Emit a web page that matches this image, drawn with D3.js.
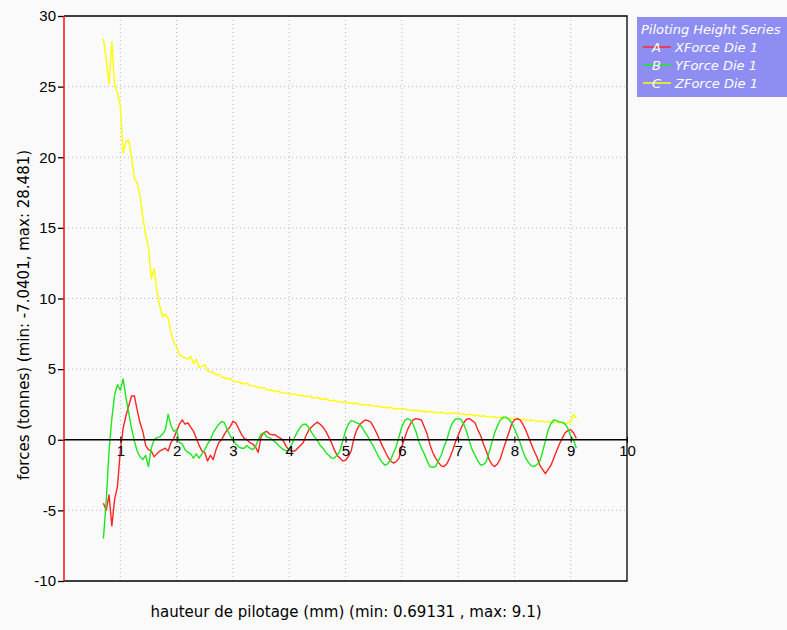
<!DOCTYPE html>
<html lang="en">
<head>
    <meta charset="utf-8">
    <title>Piloting Height Series</title>
    <style>
        body {
            margin: 0;
            background: #fff;
        }

        svg {
            display: block;
            font-family: "Liberation Sans", Arial, sans-serif;
        }

        .grid line {
            stroke: #b8b8b8;
            stroke-width: 1;
            stroke-dasharray: 1, 3;
        }

        .axis text {
            font-size: 15px;
            fill: #000;
        }

        .axis line {
            stroke: #000;
        }

        .title {
            font-family: "DejaVu Sans", sans-serif;
            font-size: 15px;
        }

        .legend text {
            font-family: "DejaVu Sans", sans-serif;
            font-size: 13px;
            font-style: italic;
            fill: #fff;
        }
    </style>
</head>
<body>

<svg width="787" height="630"></svg>

<script src="https://d3js.org/d3.v7.min.js"></script>
<script>

    // pilot height (mm), shared by the three series
    const hauteur = [
        0.70, 0.75, 0.80, 0.85, 0.90, 0.95, 1.00, 1.05, 1.10, 1.15,
        1.20, 1.25, 1.30, 1.35, 1.40, 1.45, 1.50, 1.55, 1.60, 1.65,
        1.70, 1.75, 1.80, 1.85, 1.90, 1.95, 2.00, 2.05, 2.10, 2.15,
        2.20, 2.25, 2.30, 2.35, 2.40, 2.45, 2.50, 2.55, 2.60, 2.65,
        2.70, 2.75, 2.80, 2.85, 2.90, 2.95, 3.00, 3.05, 3.10, 3.15,
        3.20, 3.25, 3.30, 3.35, 3.40, 3.45, 3.50, 3.55, 3.60, 3.65,
        3.70, 3.75, 3.80, 3.85, 3.90, 3.95, 4.00, 4.05, 4.10, 4.15,
        4.20, 4.25, 4.30, 4.35, 4.40, 4.45, 4.50, 4.55, 4.60, 4.65,
        4.70, 4.75, 4.80, 4.85, 4.90, 4.95, 5.00, 5.05, 5.10, 5.15,
        5.20, 5.25, 5.30, 5.35, 5.40, 5.45, 5.50, 5.55, 5.60, 5.65,
        5.70, 5.75, 5.80, 5.85, 5.90, 5.95, 6.00, 6.05, 6.10, 6.15,
        6.20, 6.25, 6.30, 6.35, 6.40, 6.45, 6.50, 6.55, 6.60, 6.65,
        6.70, 6.75, 6.80, 6.85, 6.90, 6.95, 7.00, 7.05, 7.10, 7.15,
        7.20, 7.25, 7.30, 7.35, 7.40, 7.45, 7.50, 7.55, 7.60, 7.65,
        7.70, 7.75, 7.80, 7.85, 7.90, 7.95, 8.00, 8.05, 8.10, 8.15,
        8.20, 8.25, 8.30, 8.35, 8.40, 8.45, 8.50, 8.55, 8.60, 8.65,
        8.70, 8.75, 8.80, 8.85, 8.90, 8.95, 9.00, 9.05, 9.10
    ];

    // A - XForce Die 1 (tonnes)
    const xForce = [
        -4.5, -5.0, -3.9, -6.1, -4.2, -3.3, -0.8, 0.8, 1.7, 2.4,
        3.1, 3.1, 2.1, 1.2, 0.6, -0.4, -0.7, -0.8, -1.2, -1.0,
        -0.8, -0.7, -0.6, -0.8, -0.2, 0.1, 0.6, 1.1, 1.4, 1.1,
        1.2, 0.9, 0.6, 0.1, -0.4, -0.8, -0.9, -1.5, -1.1, -1.4,
        -0.7, -0.2, 0.0, 0.4, 0.7, 0.9, 1.3, 1.2, 0.8, 0.4,
        0.1, 0.0, -0.2, -0.3, -0.5, -0.9, 0.2, 0.5, 0.6, 0.4,
        0.35, 0.35, 0.2, 0.1, -0.1, -0.5, -0.7, -0.8, -0.8, -0.6,
        -0.4, -0.2, 0.3, 0.7, 0.9, 1.1, 1.25, 1.1, 0.9, 0.6,
        0.2, -0.2, -0.7, -1.1, -1.3, -1.5, -1.45, -1.2, -0.8, 0.1,
        0.7, 1.05, 1.25, 1.4, 1.35, 1.25, 0.9, 0.5, 0.05, -0.4,
        -0.8, -1.2, -1.5, -1.65, -1.55, -1.3, -0.5, 0.1, 0.7, 1.1,
        1.4, 1.5, 1.45, 1.4, 0.9, 0.4, -0.35, -0.9, -1.3, -1.6,
        -1.85, -1.9, -1.7, -1.3, -0.8, -0.2, 0.3, 0.8, 1.2, 1.45,
        1.5, 1.35, 1.2, 0.7, 0.3, -0.3, -0.8, -1.4, -1.75, -1.9,
        -1.7, -1.35, -0.7, -0.1, 0.5, 1.1, 1.4, 1.5, 1.4, 1.1,
        0.7, 0.2, -0.3, -0.8, -1.2, -1.8, -2.1, -2.4, -2.1, -1.8,
        -1.3, -0.8, -0.3, 0.1, 0.5, 0.65, 0.7, 0.5, 0.1
    ];

    // B - YForce Die 1 (tonnes)
    const yForce = [
        -7.0, -4.3, -0.8, 1.5, 3.2, 3.9, 3.5, 4.3, 3.0, 1.9,
        0.8, -0.1, -0.8, -1.2, -1.4, -1.1, -1.9, -0.6, 0.0, 0.15,
        0.2, 0.4, 0.7, 1.8, 1.0, 0.6, 0.7, -0.2, -0.3, -0.7,
        -0.9, -1.0, -1.3, -1.0, -1.3, -1.0, -0.7, -0.3, 0.0, 0.5,
        0.8, 1.1, 1.3, 1.2, 0.7, 0.3, 0.0, -0.3, -0.5, -0.6,
        -0.6, -0.4, -0.6, -0.7, -0.5, 0.0, 0.4, 0.5, 0.2, 0.15,
        0.0, -0.15, -0.35, -0.55, -0.7, -0.8, -0.65, -0.3, 0.2, 0.6,
        0.9, 1.1, 1.1, 0.85, 0.5, 0.2, -0.05, -0.4, -0.6, -0.9,
        -1.1, -1.3, -1.3, -1.1, -0.8, -0.1, 0.6, 1.1, 1.35, 1.3,
        1.2, 1.1, 0.85, 0.5, 0.2, -0.15, -0.5, -0.9, -1.3, -1.6,
        -1.8, -1.7, -1.45, -0.95, -0.5, 0.2, 0.9, 1.35, 1.5, 1.4,
        1.1, 0.6, -0.1, -0.6, -1.0, -1.5, -1.9, -1.95, -1.9, -1.5,
        -1.1, -0.5, 0.0, 0.7, 1.2, 1.45, 1.5, 1.45, 1.1, 0.6,
        -0.1, -0.7, -1.1, -1.5, -1.8, -1.75, -1.55, -0.9, -0.2, 0.5,
        1.0, 1.4, 1.6, 1.6, 1.45, 1.2, 0.8, 0.3, -0.2, -0.8,
        -1.3, -1.6, -1.85, -1.9, -1.75, -1.55, -0.85, -0.1, 0.7, 1.15,
        1.4, 1.35, 1.25, 1.25, 1.1, 0.8, 0.25, 0.0, -0.6
    ];

    // C - ZForce Die 1 (tonnes)
    const zForce = [
        28.4, 26.9, 25.2, 28.2, 25.0, 24.6, 23.6, 20.3, 21.1, 21.2,
        20.0, 18.5, 18.2, 17.3, 15.8, 14.5, 13.6, 11.4, 12.1, 10.6,
        9.5, 8.7, 8.9, 8.6, 7.6, 6.9, 6.6, 6.0, 5.9, 5.8,
        5.7, 5.9, 5.4, 5.7, 5.1, 5.2, 5.3, 4.9, 4.8, 4.75,
        4.6, 4.65, 4.45, 4.4, 4.3, 4.35, 4.15, 4.1, 4.1, 4.0,
        3.95, 4.0, 3.85, 3.8, 3.8, 3.7, 3.65, 3.7, 3.55, 3.5,
        3.5, 3.4, 3.45, 3.35, 3.3, 3.3, 3.25, 3.2, 3.25, 3.15,
        3.15, 3.1, 3.05, 3.1, 3.0, 2.95, 3.0, 2.9, 2.85, 2.9,
        2.8, 2.75, 2.8, 2.7, 2.7, 2.65, 2.7, 2.6, 2.6, 2.55,
        2.6, 2.5, 2.5, 2.45, 2.5, 2.4, 2.4, 2.35, 2.4, 2.3,
        2.3, 2.25, 2.3, 2.2, 2.2, 2.2, 2.15, 2.2, 2.1, 2.1,
        2.05, 2.1, 2.05, 2.0, 2.05, 1.95, 2.0, 1.95, 1.95, 1.9,
        1.95, 1.9, 1.85, 1.9, 1.85, 1.9, 1.85, 1.8, 1.85, 1.75,
        1.8, 1.75, 1.7, 1.75, 1.65, 1.7, 1.65, 1.6, 1.65, 1.6,
        1.55, 1.6, 1.5, 1.55, 1.5, 1.5, 1.45, 1.5, 1.4, 1.45,
        1.4, 1.35, 1.4, 1.35, 1.3, 1.35, 1.3, 1.25, 1.3, 1.25,
        1.2, 1.25, 1.2, 1.2, 1.15, 1.2, 1.25, 1.8, 1.5
    ];

    const seriesLetters = ["A", "B", "C"];
    const seriesNames = ["XForce Die  1", "YForce Die  1", "ZForce Die  1"];
    const seriesColors = ["#ff2424", "#1ee61e", "#ffff00"];

    const xTicks = [1, 2, 3, 4, 5, 6, 7, 8, 9, 10];
    const yTicks = [-10, -5, 0, 5, 10, 15, 20, 25, 30];
    const xGrid = [1, 2, 3, 4, 5, 6, 7, 8, 9];
    const yGrid = [-5, 5, 10, 15, 20, 25];

    const legendTitle = "Piloting Height Series";
    const xTitle = "hauteur de pilotage (mm) (min: 0.69131 , max: 9.1)";
    const yTitle = "forces (tonnes) (min: -7.0401, max: 28.481)";

    const svg = d3.select("svg");
    const plot = {left: 64, right: 627, top: 16, bottom: 581};

    svg.append("rect")
        .attr("x", 0).attr("y", 0)
        .attr("width", 787).attr("height", 630)
        .attr("fill", "#fafafa");

    const x = d3.scaleLinear().domain([0, 10]).range([plot.left, plot.right]);
    const y = d3.scaleLinear().domain([-10, 30]).range([plot.bottom, plot.top]);

    // dotted grid
    const grid = svg.append("g").attr("class", "grid");
    grid.selectAll(".vg")
        .data(xGrid)
        .enter().append("line")
        .attr("x1", d => x(d)).attr("x2", d => x(d))
        .attr("y1", plot.top).attr("y2", plot.bottom);
    grid.selectAll(".hg")
        .data(yGrid)
        .enter().append("line")
        .attr("x1", plot.left).attr("x2", plot.right)
        .attr("y1", d => y(d)).attr("y2", d => y(d));

    // frame (top, right, bottom)
    svg.append("path")
        .attr("d", `M${plot.left},${plot.top}H${plot.right}V${plot.bottom}H${plot.left}`)
        .attr("fill", "none")
        .attr("stroke", "#000")
        .attr("stroke-width", 1.3);

    // series, yellow underneath
    const line = d3.line()
        .x((d, i) => x(hauteur[i]))
        .y(d => y(d));

    [[zForce, 2], [xForce, 0], [yForce, 1]].forEach(([s, k]) => {
        svg.append("path")
            .datum(s)
            .attr("d", line)
            .attr("fill", "none")
            .attr("stroke", seriesColors[k])
            .attr("stroke-width", 1.4)
            .attr("stroke-linejoin", "round");
    });

    // y axis (plain hyphen minus, like the original)
    const yAxis = d3.axisLeft(y)
        .tickValues(yTicks)
        .tickFormat(d => String(d))
        .tickSize(6)
        .tickPadding(2);
    const gy = svg.append("g")
        .attr("class", "axis")
        .attr("transform", `translate(${plot.left},0)`)
        .call(yAxis);
    gy.select(".domain").remove();
    gy.selectAll(".tick line").attr("stroke-width", 1.3);

    svg.append("line")
        .attr("x1", plot.left).attr("x2", plot.left)
        .attr("y1", plot.top).attr("y2", plot.bottom)
        .attr("stroke", "#ff1a1a")
        .attr("stroke-width", 1.6);

    // x axis, drawn through zero
    const xAxis = d3.axisBottom(x)
        .tickValues(xTicks)
        .tickFormat(d => String(d))
        .tickSize(3)
        .tickPadding(3);
    const gx = svg.append("g")
        .attr("class", "axis")
        .attr("transform", `translate(0,${y(0)})`)
        .call(xAxis);
    gx.select(".domain")
        .attr("d", `M${plot.left},0H${plot.right}`)
        .attr("stroke", "#000")
        .attr("stroke-width", 1.3);
    gx.selectAll(".tick line").attr("y1", -3);

    // axis titles
    svg.append("text")
        .attr("class", "title")
        .attr("x", 346)
        .attr("y", 617)
        .attr("text-anchor", "middle")
        .text(xTitle);

    svg.append("text")
        .attr("class", "title")
        .attr("transform", "translate(29,315) rotate(-90)")
        .attr("text-anchor", "middle")
        .text(yTitle);

    // legend
    const legend = svg.append("g").attr("class", "legend");
    legend.append("rect")
        .attr("x", 637).attr("y", 17)
        .attr("width", 170).attr("height", 80)
        .attr("fill", "#8e8ef2");
    legend.append("text")
        .attr("x", 641).attr("y", 34)
        .text(legendTitle);

    const items = legend.selectAll(".item")
        .data(seriesNames)
        .enter().append("g")
        .attr("transform", (d, i) => `translate(0,${47 + i * 18})`);
    items.append("line")
        .attr("x1", 643).attr("x2", 671)
        .attr("stroke", (d, i) => seriesColors[i])
        .attr("stroke-width", 1.5);
    items.append("text")
        .attr("x", 652).attr("y", 5)
        .text((d, i) => seriesLetters[i]);
    items.append("text")
        .attr("x", 675).attr("y", 5)
        .text(d => d);

</script>

</body>
</html>
